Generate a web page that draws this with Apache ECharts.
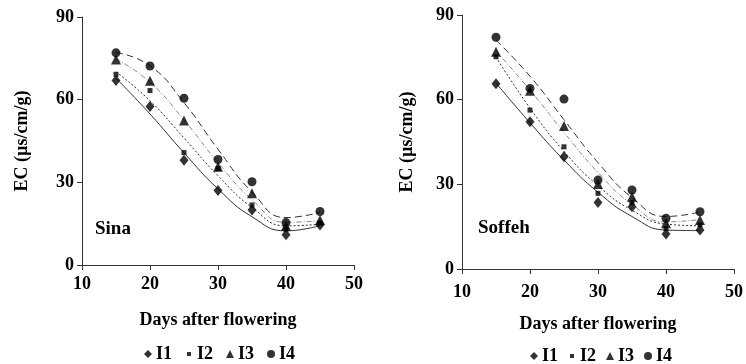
<!DOCTYPE html>
<html>
<head>
<meta charset="utf-8">
<script src="https://cdn.jsdelivr.net/npm/echarts@6/dist/echarts.min.js"></script>
<style>
  html, body { margin: 0; padding: 0; background: #fff; }
  #chart { width: 746px; height: 364px; }
</style>
</head>
<body>
<div id="chart"></div>
<script>
// days after flowering
const days = [15, 20, 25, 30, 35, 40, 45]
const xTicks = [10, 20, 30, 40, 50]
const yTicks = [0, 30, 60, 90]
const names = ['I1', 'I2', 'I3', 'I4']

// Sina, measured points
const sinaI1 = [67, 57.5, 38, 27, 20, 11, 14.5]
const sinaI2 = [69.2, 63.3, 40.8, 35, 21.8, 13, 15.1]
const sinaI3 = [74.6, 66.9, 52.4, 35.7, 26, 14.2, 16.3]
const sinaI4 = [77, 72.2, 60.5, 38.3, 30.2, 15.4, 19.4]
// Sina, trend line values read at each day
const sinaFitI1 = [67.8, 54.8, 40.7, 27.6, 17.5, 12.4, 14.3]
const sinaFitI2 = [70.1, 59.6, 46.1, 32.4, 20.9, 14.2, 14.8]
const sinaFitI3 = [74.8, 66.3, 52.6, 37.2, 23.7, 15.5, 16.0]
const sinaFitI4 = [77.1, 72.3, 58.9, 42.0, 26.5, 17.2, 19.1]

// Soffeh, measured points
const soffehI1 = [65.6, 52.2, 39.8, 23.6, 22.1, 12.4, 13.8]
const soffehI2 = [75.2, 56.3, 43.3, 26.8, 23.5, 14.4, 15.6]
const soffehI3 = [77, 63.2, 50.7, 30.1, 25.6, 16.2, 17.4]
const soffehI4 = [82.1, 64, 60.2, 31.5, 28, 18, 20.3]
// Soffeh, trend line values read at each day
const soffehFitI1 = [65.9, 51.8, 38.6, 27.2, 18.6, 13.8, 13.6]
const soffehFitI2 = [75.1, 57.0, 41.7, 29.5, 20.8, 15.9, 15.3]
const soffehFitI3 = [77.2, 63.4, 48.4, 34.2, 22.9, 16.7, 17.5]
const soffehFitI4 = [81.1, 68.3, 52.9, 37.7, 25.3, 18.6, 20.2]

const font = '"Liberation Serif", "Times New Roman", serif'
const symbols = ['diamond', 'rect', 'triangle', 'circle']
const symbolSizes = [[9, 11], 5, 10, 9]
const lineStyles = [
  { type: 'solid', color: '#333' },
  { type: [2, 2], color: '#333' },
  { type: [5, 2, 1, 2], color: '#888' },
  { type: [7, 4], color: '#333' },
]
const legendIcons = [
  'diamond',
  'path://M0,0M10,10M2.5,2.5h5v5h-5z',
  'triangle',
  'circle',
]

const pairs = (ys) => days.map((d, i) => [d, ys[i]])

const makeSeries = (idx, points, fits) => {
  const out = []
  fits.forEach((f, k) => {
    out.push({
      name: 'fit' + names[k],
      type: 'line',
      xAxisIndex: idx,
      yAxisIndex: idx,
      data: pairs(f),
      smooth: 0.5,
      showSymbol: false,
      silent: true,
      lineStyle: { width: 1, ...lineStyles[k] },
      z: 1,
    })
  })
  points.forEach((p, k) => {
    out.push({
      name: names[k],
      type: 'scatter',
      xAxisIndex: idx,
      yAxisIndex: idx,
      data: pairs(p),
      symbol: symbols[k],
      symbolSize: symbolSizes[k],
      itemStyle: { color: '#000' },
      z: 3,
    })
  })
  return out
}

const xAxisBase = (gridIndex, margin) => ({
  gridIndex,
  type: 'value',
  min: xTicks[0],
  max: xTicks[xTicks.length - 1],
  interval: 10,
  name: 'Days after flowering',
  nameLocation: 'middle',
  nameGap: 46,
  nameTextStyle: { fontFamily: font, fontWeight: 'bold', fontSize: 18, color: '#000' },
  axisLine: { onZero: false, lineStyle: { color: '#333', width: 1 } },
  axisTick: { show: true, inside: false, length: 5, lineStyle: { color: '#333' } },
  axisLabel: { margin, fontFamily: font, fontWeight: 'bold', fontSize: 18, color: '#000' },
  splitLine: { show: false },
})

const yAxisBase = (gridIndex, gap) => ({
  gridIndex,
  type: 'value',
  min: yTicks[0],
  max: yTicks[yTicks.length - 1],
  interval: 30,
  name: 'EC (µs/cm/g)',
  nameLocation: 'middle',
  nameGap: gap,
  nameTextStyle: { fontFamily: font, fontWeight: 'bold', fontSize: 18, color: '#000' },
  axisLine: { show: true, onZero: false, lineStyle: { color: '#333', width: 1 } },
  axisTick: { show: true, inside: false, length: 5, lineStyle: { color: '#333' } },
  axisLabel: { margin: 8, fontFamily: font, fontWeight: 'bold', fontSize: 18, color: '#000' },
  splitLine: { show: false },
})

const legendBase = (left, top, gap) => ({
  left,
  top,
  orient: 'horizontal',
  itemWidth: 8,
  itemHeight: 8,
  itemGap: gap,
  data: names.map((n, k) => ({ name: n, icon: legendIcons[k] })),
  textStyle: { fontFamily: font, fontWeight: 'bold', fontSize: 18, color: '#000', padding: [0, 0, 0, -1] },
  selectedMode: false,
})

const chart = echarts.init(document.getElementById('chart'), null, { renderer: 'canvas' })

chart.setOption({
  animation: false,
  backgroundColor: '#fff',
  grid: [
    { left: 82, right: 392, top: 17, bottom: 99 },
    { left: 462, right: 10, top: 15, bottom: 95 },
  ],
  xAxis: [xAxisBase(0, 10), xAxisBase(1, 14)],
  yAxis: [yAxisBase(0, 51), yAxisBase(1, 46)],
  legend: [legendBase(139, 340, 13), legendBase(525, 342, 10)],
  graphic: [
    {
      type: 'text',
      left: 95,
      top: 220,
      style: { text: 'Sina', font: 'bold 19px ' + font, fill: '#000' },
    },
    {
      type: 'text',
      left: 478,
      top: 219,
      style: { text: 'Soffeh', font: 'bold 19px ' + font, fill: '#000' },
    },
  ],
  series: [
    ...makeSeries(0, [sinaI1, sinaI2, sinaI3, sinaI4], [sinaFitI1, sinaFitI2, sinaFitI3, sinaFitI4]),
    ...makeSeries(1, [soffehI1, soffehI2, soffehI3, soffehI4], [soffehFitI1, soffehFitI2, soffehFitI3, soffehFitI4]),
  ],
})
</script>
</body>
</html>
